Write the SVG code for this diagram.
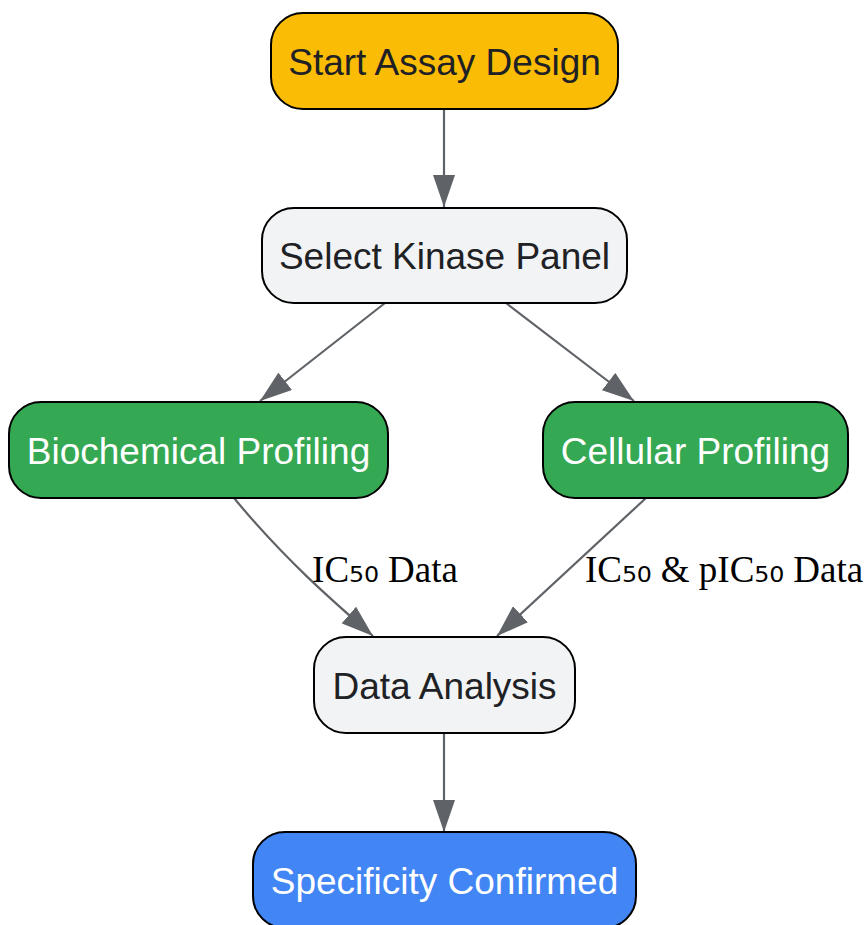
<svg xmlns="http://www.w3.org/2000/svg" width="868" height="925" viewBox="0 0 868 925">
<style>
.node rect{stroke:#000;stroke-width:2}
.node text{font-family:"Liberation Sans",Arial,sans-serif;font-size:37px;text-anchor:middle}
.dark{fill:#202124}
.light{fill:#fff}
.edge{fill:none;stroke:#5F6368;stroke-width:2.2}
.elabel{font-family:"Liberation Serif","Times New Roman",serif;font-size:37px;fill:#000;text-anchor:middle}
.sub{font-family:"DejaVu Sans",sans-serif}
</style>
<defs>
<marker id="arr" viewBox="0 0 32 22" refX="32" refY="11" markerWidth="32" markerHeight="22" markerUnits="userSpaceOnUse" orient="auto">
<path d="M0,0 L32,11 L0,22 z" fill="#5F6368"/>
</marker>
</defs>
<rect width="868" height="925" fill="#fff"/>
<g id="connectors">
<path class="edge" d="M444,109 L444,207" marker-end="url(#arr)"/>
<path class="edge" d="M385,303 L260,401" marker-end="url(#arr)"/>
<path class="edge" d="M506,303 L634,401" marker-end="url(#arr)"/>
<path class="edge" d="M234,498 C285,560 335,603 373,636" marker-end="url(#arr)"/>
<path class="edge" d="M646,498 L497,636" marker-end="url(#arr)"/>
<path class="edge" d="M444,734 L444,832" marker-end="url(#arr)"/>
<text class="elabel" x="385" y="582">IC<tspan class="sub">₅₀</tspan> Data</text>
<text class="elabel" x="724" y="582">IC<tspan class="sub">₅₀</tspan> &amp; pIC<tspan class="sub">₅₀</tspan> Data</text>
</g>
<g id="start" class="node">
<rect x="271" y="13" width="347" height="96" rx="32" fill="#FBBC05"/>
<text class="dark" x="444.5" y="74.5">Start Assay Design</text>
</g>
<g id="select" class="node">
<rect x="262" y="208" width="365" height="95" rx="32" fill="#F1F3F4"/>
<text class="dark" x="444.5" y="269">Select Kinase Panel</text>
</g>
<g id="biochem" class="node">
<rect x="9" y="402" width="379" height="96" rx="32" fill="#34A853"/>
<text class="light" x="198.5" y="464">Biochemical Profiling</text>
</g>
<g id="cellular" class="node">
<rect x="543" y="402" width="305" height="96" rx="32" fill="#34A853"/>
<text class="light" x="695.5" y="464">Cellular Profiling</text>
</g>
<g id="analysis" class="node">
<rect x="314" y="637" width="261" height="96" rx="32" fill="#F1F3F4"/>
<text class="dark" x="444.5" y="699">Data Analysis</text>
</g>
<g id="specificity" class="node">
<rect x="253" y="832" width="383" height="96" rx="32" fill="#4285F4"/>
<text class="light" x="444.5" y="894">Specificity Confirmed</text>
</g>
</svg>
